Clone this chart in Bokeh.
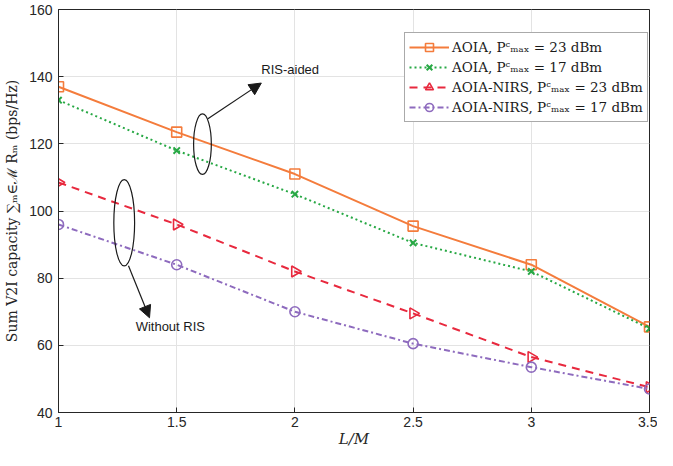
import numpy as np
from bokeh.plotting import figure
from bokeh.models import (FixedTicker, Range1d, Legend, LegendItem, Arrow, NormalHead,
                          ColumnDataSource)
from bokeh.core.properties import value
from bokeh.embed import file_html
from bokeh.resources import INLINE

# ---- data ----
x_vals = [1.0, 1.5, 2.0, 2.5, 3.0, 3.5]
x_tick_labels = ["1", "1.5", "2", "2.5", "3", "3.5"]
y_ticks = [40, 60, 80, 100, 120, 140, 160]
aoia_23 = [137.0, 123.5, 111.0, 95.5, 84.0, 65.5]
aoia_17 = [133.0, 118.0, 105.0, 90.5, 82.0, 65.0]
nirs_23 = [108.5, 96.0, 82.0, 69.5, 56.5, 47.5]
nirs_17 = [96.0, 84.0, 70.0, 60.5, 53.5, 47.0]
series_labels = ["AOIA, Pᶜₘₐₓ = 23 dBm", "AOIA, Pᶜₘₐₓ = 17 dBm",
                 "AOIA-NIRS, Pᶜₘₐₓ = 23 dBm", "AOIA-NIRS, Pᶜₘₐₓ = 17 dBm"]

# annotations (data coordinates)
ell_x = [1.609, 1.278]
ell_y = [119.9, 96.5]
ell_w = [0.075, 0.088]
ell_h = [18.0, 25.7]
arrow_start = [(1.632, 127.5), (1.296, 83.7)]
arrow_end = [(1.858, 138.1), (1.385, 68.2)]
note_x = [1.98, 1.473]
note_y = [142.2, 65.6]
note_text = ["RIS-aided", "Without RIS"]

colors = ["#F47C3C", "#27A844", "#E8293E", "#8E6BBE"]

p = figure(width=657, height=450, output_backend="svg", toolbar_location=None,
           x_range=Range1d(1, 3.5), y_range=Range1d(40, 160),
           min_border_left=58, min_border_right=8, min_border_top=9, min_border_bottom=36)
p.background_fill_color = "white"
p.outline_line_color = "#262626"
p.outline_line_width = 1

for ax in (p.xaxis[0], p.yaxis[0]):
    ax.major_tick_in = 5
    ax.major_tick_out = 0
    ax.minor_tick_in = 0
    ax.minor_tick_out = 0
    ax.axis_line_color = "#262626"
    ax.major_tick_line_color = "#262626"
    ax.major_label_text_font = "Liberation Sans"
    ax.major_label_text_font_size = "14px"
    ax.major_label_text_color = "#262626"

p.xaxis.ticker = FixedTicker(ticks=x_vals)
p.xaxis.major_label_overrides = {x: s for x, s in zip(x_vals, x_tick_labels)}
p.yaxis.ticker = FixedTicker(ticks=y_ticks)
p.xaxis.axis_label = "L/M"
p.xaxis.axis_label_text_font = "DejaVu Serif"
p.xaxis.axis_label_text_font_style = "italic"
p.xaxis.axis_label_text_font_size = "15px"
p.xaxis.axis_label_text_color = "#262626"
p.xaxis.axis_label_standoff = 0
p.xaxis.major_label_standoff = 4
p.yaxis.axis_label = "Sum V2I capacity ∑ₘ∈ℳ Rₘ (bps/Hz)"
p.yaxis.axis_label_text_font = "DejaVu Serif"
p.yaxis.axis_label_text_font_style = "normal"
p.yaxis.axis_label_text_font_size = "14px"
p.yaxis.axis_label_text_color = "#262626"
p.yaxis.axis_label_standoff = 6
p.yaxis.major_label_standoff = 6

p.grid.grid_line_color = "#e3e3e3"
p.grid.grid_line_width = 1

items = []
# AOIA 23: solid, squares
r1 = p.line(x_vals, aoia_23, line_color=colors[0], line_width=2)
m1 = p.scatter(x_vals, aoia_23, marker="square", size=10, fill_color=None,
               line_color=colors[0], line_width=1.6)
items.append(LegendItem(label=series_labels[0], renderers=[r1, m1]))
# AOIA 17: dotted, x
r2 = p.line(x_vals, aoia_17, line_color=colors[1], line_width=2, line_dash="2 3")
m2 = p.scatter(x_vals, aoia_17, marker="x", size=9, line_color=colors[1], line_width=2)
items.append(LegendItem(label=series_labels[1], renderers=[r2, m2]))
# NIRS 23: dashed, right triangle
r3 = p.line(x_vals, nirs_23, line_color=colors[2], line_width=2, line_dash="8 6")
tri_src = ColumnDataSource(dict(x=x_vals, y=nirs_23, ang=[-np.pi / 2] * len(x_vals)))
m3 = p.scatter("x", "y", source=tri_src, marker="triangle", angle="ang", size=11,
               fill_color=None, line_color=colors[2], line_width=1.6)
items.append(LegendItem(label=series_labels[2], renderers=[r3, m3], index=0))
# NIRS 17: dash-dot, circle
r4 = p.line(x_vals, nirs_17, line_color=colors[3], line_width=2, line_dash="6 3 2 3")
m4 = p.scatter(x_vals, nirs_17, marker="circle", size=10, fill_color=None,
               line_color=colors[3], line_width=1.6)
items.append(LegendItem(label=series_labels[3], renderers=[r4, m4]))

# annotations
p.ellipse(x=ell_x, y=ell_y, width=ell_w, height=ell_h, fill_color=None,
          line_color="#1a1a1a", line_width=1.2)
for (xs, ys), (xe, ye) in zip(arrow_start, arrow_end):
    p.add_layout(Arrow(x_start=xs, y_start=ys, x_end=xe, y_end=ye,
                       line_color="#1a1a1a", line_width=1.2,
                       end=NormalHead(size=12, fill_color="#1a1a1a", line_color="#1a1a1a")))
p.text(x=note_x, y=note_y, text=note_text, text_font=value("Liberation Sans"),
       text_font_size="13px", text_color="#1a1a1a", text_align="center",
       text_baseline="middle")

legend = Legend(items=items, location=(346, 290))
legend.label_text_font = "DejaVu Serif"
legend.label_text_font_size = "13.5px"
legend.label_text_color = "#1a1a1a"
legend.glyph_width = 40
legend.glyph_height = 20
legend.label_height = 20
legend.spacing = 0
legend.padding = 4
legend.margin = 0
legend.label_standoff = 3
legend.border_line_color = "#555555"
legend.border_line_width = 1
legend.background_fill_alpha = 1
p.add_layout(legend)

open("out.html", "w").write(file_html(p, INLINE))
